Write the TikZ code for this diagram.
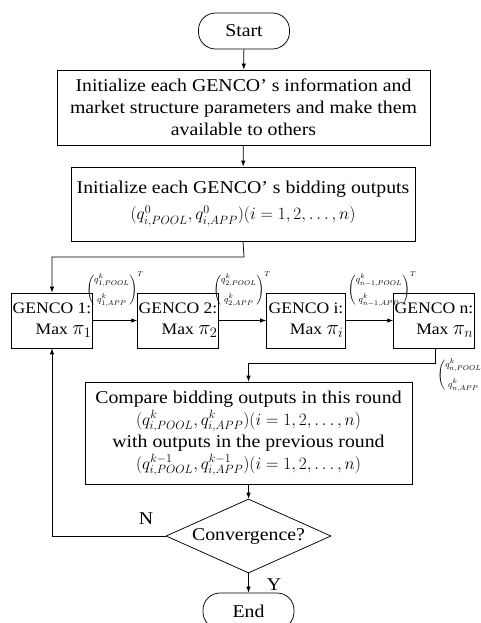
\documentclass[tikz,border=0pt]{standalone}
\usepackage{fontspec}
\setmainfont{Liberation Serif}[FakeStretch=1.1]
\usetikzlibrary{arrows.meta,shapes.geometric,calc}
\newcommand{\bigpi}[1]{{\fontsize{21}{21}\selectfont$\pi_{#1}$}}
\begin{document}
\begin{tikzpicture}[x=1pt,y=-1pt,line width=0.75pt,
  every node/.style={font=\fontsize{18}{22}\selectfont},
  box/.style={draw,align=center,inner sep=1pt},
  term/.style={draw,rounded corners=17pt,minimum width=91pt,minimum height=36pt},
  gbox/.style={draw,minimum width=79pt,minimum height=55pt,inner sep=1pt,align=right,font=\fontsize{16}{21}\selectfont},
  dec/.style={draw,diamond,aspect=2.23,minimum width=165pt,minimum height=74pt,inner sep=0pt},
  arr/.style={-{Latex[length=6pt,width=4.5pt]}},
  vec/.style={font=\fontsize{9.5}{11}\selectfont,inner sep=0pt}]
\useasboundingbox (0,0) rectangle (480,623);
\begin{scope}
\clip (0,0) rectangle (480,623);
\node[term] (start) at (244,31) {Start};
\node[box,minimum width=373pt,minimum height=75pt] (init1) at (243.5,107.5)
  {Initialize each GENCO’\ s information and\\market structure parameters and make them\\available to others};
\node[box,minimum width=344pt,minimum height=74pt,font=\fontsize{18}{26}\selectfont] (init2) at (243,204)
  {Initialize each GENCO’\ s bidding outputs\\$\bigl(q^{0}_{i,POOL},q^{0}_{i,APP}\bigr)(i=1,2,\ldots,n)$};
\node[gbox] (g1) at (52,320.5) {GENCO 1:\\Max \bigpi{1}};
\node[gbox] (g2) at (178,320.5) {GENCO 2:\\Max \bigpi{2}};
\node[gbox] (gi) at (306,320.5) {GENCO i:\\Max \bigpi{i}};
\node[gbox] (gn) at (434,320.5) {GENCO n:\\Max \bigpi{n}};
\node[box,minimum width=327pt,minimum height=102pt,font=\fontsize{18}{22}\selectfont] (cmp) at (248.5,433)
  {Compare bidding outputs in this round\\$\bigl(q^{k}_{i,POOL},q^{k}_{i,APP}\bigr)(i=1,2,\ldots,n)$\\with outputs in the previous round\\$\bigl(q^{k-1}_{i,POOL},q^{k-1}_{i,APP}\bigr)(i=1,2,\ldots,n)$};
\node[dec] (conv) at (248.5,536) {Convergence?};
\node[term] (end) at (248.5,611) {End};
\node[vec] (v1) at (115,289) {$\left(\begin{array}{@{}c@{}}q^{k}_{1,POOL}\\[8pt] q^{k}_{1,APP}\end{array}\right)^{T}$};
\node[vec] (v2) at (242,289) {$\left(\begin{array}{@{}c@{}}q^{k}_{2,POOL}\\[8pt] q^{k}_{2,APP}\end{array}\right)^{T}$};
\node[vec,anchor=west] (v3) at (347.5,289) {$\left(\begin{array}{@{}c@{}}q^{k}_{n-1,POOL}\\[8pt] q^{k}_{n-1,APP}\end{array}\right)^{T}$};
\node[vec,anchor=west] (vn) at (437,374) {$\left(\begin{array}{@{}c@{}}q^{k}_{n,POOL}\\[8pt] q^{k}_{n,APP}\end{array}\right)^{T}$};
\node (nlab) at (146,519) {N};
\node (ylab) at (274,585) {Y};
\coordinate (c1) at (244,257);
\coordinate (c2) at (435,363);
\draw[arr] (start) -- (init1);
\draw[arr] (init1) -- (init2);
\draw[arr] (init2.south) -- (c1) -| (g1.north);
\draw[arr] (g1) -- (g2);
\draw[arr] (g2) -- (gi);
\draw[arr] (gi) -- (gn);
\draw[arr] (c2 |- gn.south) -- (c2) -| (cmp.north);
\draw[arr] (cmp) -- (conv);
\draw[arr] (conv.west) -| (g1.south);
\draw[arr] (conv) -- (end);
\end{scope}
\end{tikzpicture}
\end{document}
